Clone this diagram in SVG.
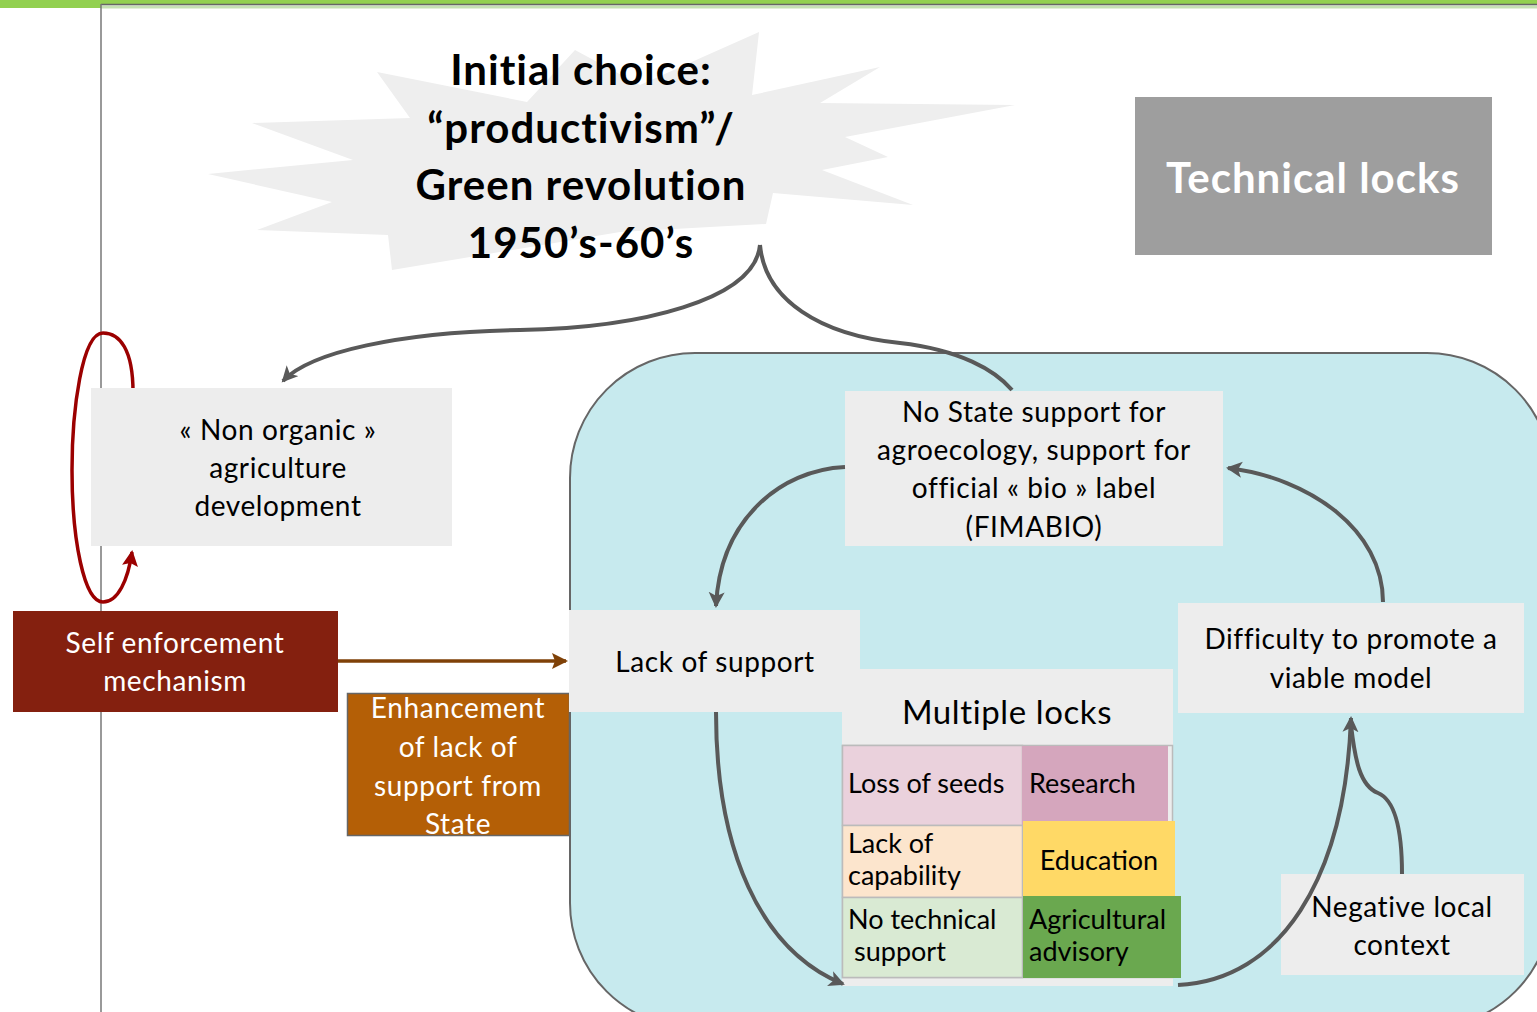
<svg xmlns="http://www.w3.org/2000/svg" width="1537" height="1012" viewBox="0 0 1537 1012">
<style>
.t{font-family:Lato,"Liberation Sans",sans-serif;fill:#000;text-anchor:middle}
.r{font-size:28px;letter-spacing:0.6px}
.s{font-size:27px}
.b{font-weight:bold;font-size:42px;letter-spacing:1px}
.w{fill:#fff}
.l{text-anchor:start}
.box{fill:#ededed}
.con{fill:none;stroke:#595959;stroke-width:4}
</style>
<defs>
<marker id="ag" markerUnits="userSpaceOnUse" markerWidth="20" markerHeight="20" refX="14" refY="8" orient="auto">
<path d="M0,0 L16,8 L0,16 L4,8 z" fill="#595959"/>
</marker>
<marker id="ab" markerUnits="userSpaceOnUse" markerWidth="20" markerHeight="20" refX="14" refY="8" orient="auto">
<path d="M0,0 L16,8 L0,16 L3,8 z" fill="#7f4107"/>
</marker>
<marker id="ar" markerUnits="userSpaceOnUse" markerWidth="20" markerHeight="20" refX="14" refY="8" orient="auto">
<path d="M0,0 L16,8 L0,16 L3,8 z" fill="#9b0000"/>
</marker>
</defs>
<rect width="1537" height="1012" fill="#fff"/>
<rect x="0" y="0" width="1537" height="4" fill="#92d050"/>
<rect x="0" y="0" width="101" height="8" fill="#92d050"/>
<rect x="101" y="5.5" width="1436" height="3" fill="#c5e0b4"/>
<line x1="101" y1="4.5" x2="1537" y2="4.5" stroke="#666" stroke-width="1.5"/>
<line x1="101" y1="4" x2="101" y2="1012" stroke="#777" stroke-width="1.5"/>

<g id="container">
<rect x="570" y="353" width="982" height="675" rx="125" ry="125" fill="#c7eaee" stroke="#666" stroke-width="2"/>
</g>

<g id="initial-choice">
<polygon fill="#eeeeee" points="377,72 527,102 575,50 640,85 759,32 752,95 880,67 820,103 1015,105 845,137 888,157 822,170 913,205 773,193 766,224 620,232 392,270 388,235 257,230 332,202 208,174 353,160 252,123 410,118"/>
<text class="t b" x="581" y="85">Initial choice:</text>
<text class="t b" x="581" y="143">“productivism”/</text>
<text class="t b" x="581" y="200">Green revolution</text>
<text class="t b" x="581" y="258">1950’s-60’s</text>
</g>

<g id="technical-locks">
<rect x="1135" y="97" width="357" height="158" fill="#9e9e9e"/>
<text class="t w" font-weight="bold" font-size="42" letter-spacing="1" x="1313" y="193">Technical locks</text>
</g>

<g id="self-loop">
<path d="M133,392 C133,350 120,333 103,333 C82,333 72,410 72,470 C72,540 84,602 103,602 C118,602 128,580 132,552" fill="none" stroke="#9b0000" stroke-width="3.5" marker-end="url(#ar)"/>
</g>

<g id="non-organic">
<rect class="box" x="91" y="388" width="361" height="158"/>
<text class="t r" x="278" y="440">« Non organic »</text>
<text class="t r" x="278" y="478">agriculture</text>
<text class="t r" x="278" y="516">development</text>
</g>

<g id="self-enforcement">
<rect x="13" y="611" width="325" height="101" fill="#84200f"/>
<text class="t r w" x="175" y="653">Self enforcement</text>
<text class="t r w" x="175" y="691">mechanism</text>
</g>

<g id="enhancement">
<rect x="347.5" y="693.5" width="222" height="142" fill="#b45f06" stroke="#666" stroke-width="1.5"/>
<text class="t r w" x="458" y="718">Enhancement</text>
<text class="t r w" x="458" y="757">of lack of</text>
<text class="t r w" x="458" y="796">support from</text>
<text class="t r w" x="458" y="834">State</text>
</g>

<g id="no-state-support">
<rect class="box" x="845" y="391" width="378" height="155"/>
<text class="t r" x="1034" y="422">No State support for</text>
<text class="t r" x="1034" y="460">agroecology, support for</text>
<text class="t r" x="1034" y="498">official « bio » label</text>
<text class="t r" x="1034" y="537">(FIMABIO)</text>
</g>

<g id="lack-of-support">
<rect class="box" x="569" y="610" width="291" height="102"/>
<text class="t r" x="715" y="672">Lack of support</text>
</g>

<g id="multiple-locks">
<rect class="box" x="842" y="669" width="331" height="317"/>
<text class="t" font-size="33" letter-spacing="0.6" x="1007" y="724">Multiple locks</text>
<rect x="842.5" y="745.5" width="330" height="232" fill="none" stroke="#bbb" stroke-width="1.5"/>
<rect x="842.5" y="745.5" width="180" height="80" fill="#ead1dc" stroke="#bbb" stroke-width="1.5"/>
<rect x="1022" y="746" width="146" height="79" fill="#d5a6bd"/>
<rect x="842.5" y="825.5" width="180" height="72" fill="#fce5cd" stroke="#bbb" stroke-width="1.5"/>
<rect x="842.5" y="897.5" width="180" height="80" fill="#d9ead3" stroke="#bbb" stroke-width="1.5"/>
<rect x="1023" y="821" width="152" height="82" fill="#ffd966"/>
<rect x="1023" y="896" width="158" height="82" fill="#6aa84f"/>
<text class="t l s" x="848" y="793">Loss of seeds</text>
<text class="t l s" x="1029" y="793">Research</text>
<text class="t l s" x="848" y="853">Lack of</text>
<text class="t l s" x="848" y="885">capability</text>
<text class="t s" x="1099" y="870">Education</text>
<text class="t l s" x="848" y="929">No technical</text>
<text class="t l s" x="854" y="961">support</text>
<text class="t l s" x="1029" y="929">Agricultural</text>
<text class="t l s" x="1029" y="961">advisory</text>
</g>

<g id="difficulty">
<rect class="box" x="1178" y="603" width="346" height="110"/>
<text class="t r" x="1351" y="649">Difficulty to promote a</text>
<text class="t r" x="1351" y="688">viable model</text>
</g>

<g id="negative-context">
<rect class="box" x="1281" y="874" width="243" height="101"/>
<text class="t r" x="1402" y="917">Negative local</text>
<text class="t r" x="1402" y="955">context</text>
</g>

<g id="connectors">
<path class="con" d="M760,245 C755,300 640,328 520,330 C400,332 310,352 283,381" marker-end="url(#ag)"/>
<path class="con" d="M760,245 C765,300 820,335 900,343 C960,350 995,370 1012,390"/>
<path class="con" d="M845,467 C780,470 720,520 716,606" marker-end="url(#ag)"/>
<path class="con" d="M716,712 C716,850 760,950 843,984" marker-end="url(#ag)"/>
<path class="con" d="M1178,985 C1280,980 1345,880 1351,718" marker-end="url(#ag)"/>
<path class="con" d="M1402,874 C1402,830 1395,800 1378,793 C1360,786 1355,760 1351,725"/>
<path class="con" d="M1383,602 C1383,530 1310,478 1228,468" marker-end="url(#ag)"/>
<path d="M338,661 L566,661" fill="none" stroke="#7f4107" stroke-width="3.5" marker-end="url(#ab)"/>
</g>
</svg>
